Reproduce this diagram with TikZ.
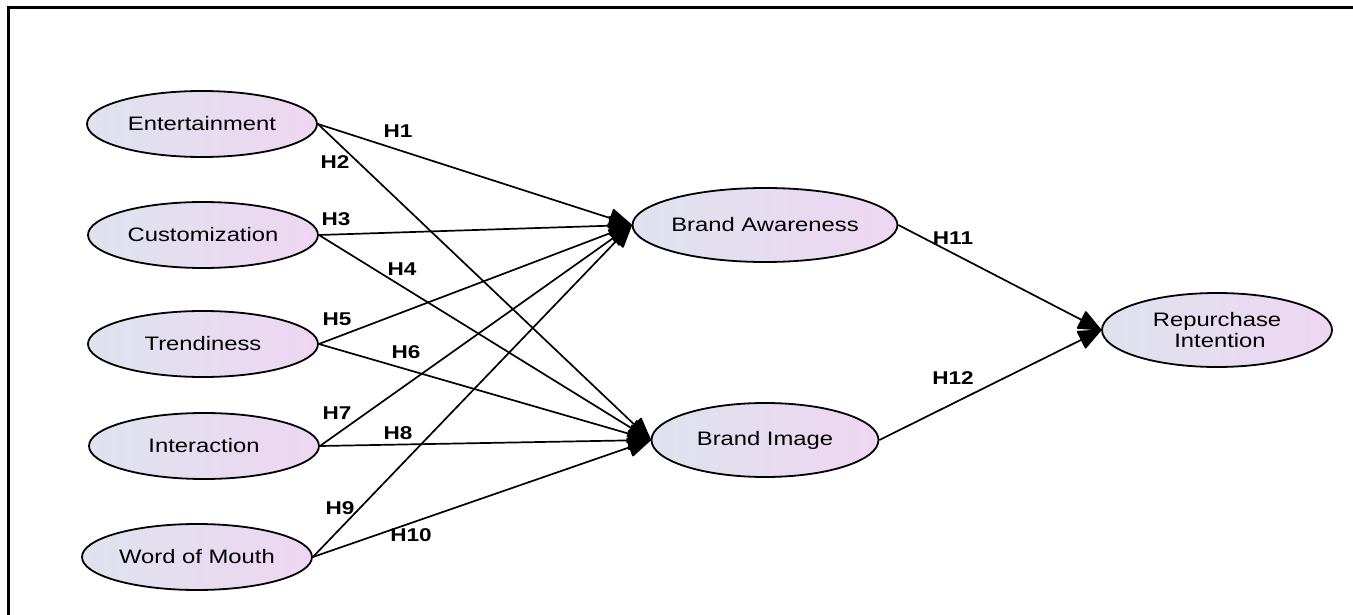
\documentclass[tikz,border=0pt]{standalone}
\usepackage{fontspec}
\usetikzlibrary{shapes.geometric,arrows.meta}
\newfontfamily\widesans[FakeStretch=1.22]{Liberation Sans}
\definecolor{ellL}{RGB}{222,227,238}
\definecolor{ellR}{RGB}{238,214,242}
\begin{document}
\begin{tikzpicture}[x=1pt,y=-1pt,
  construct/.style={ellipse,draw=black,line width=1.8pt,left color=ellL,right color=ellR,
    minimum width=230pt,minimum height=66pt,inner sep=0pt,
    font=\widesans\fontsize{19.5}{24}\selectfont,align=center},
  bigconstruct/.style={construct,minimum width=227pt,minimum height=74pt},
  link/.style={line width=1.7pt,draw=black,-{Triangle[length=24pt,width=20pt,round]}},
  hlab/.style={font=\widesans\bfseries\fontsize{18.5}{22}\selectfont,inner sep=0pt}
]
\useasboundingbox (0,0) rectangle (1353,615);
\draw[line width=3pt] (8,615) -- (8,8) -- (1353,8);

\node[construct] (E) at (202,124) {Entertainment};
\node[construct] (C) at (203,235) {Customization};
\node[construct] (T) at (203,344) {Trendiness};
\node[construct] (I) at (204,446) {Interaction};
\node[construct] (W) at (197,557) {Word of Mouth};
\node[bigconstruct] (BA) at (765,225) {Brand Awareness};
\node[bigconstruct] (BI) at (765,440) {Brand Image};
\node[bigconstruct,minimum width=230pt] (RI) at (1217,330) {Repurchase\\[-3pt] \hspace*{6pt}Intention};

\draw[link] (E.east) -- (BA.west);
\draw[link] (E.east) -- (BI.west);
\draw[link] (C.east) -- (BA.west);
\draw[link] (C.east) -- (BI.west);
\draw[link] (T.east) -- (BA.west);
\draw[link] (T.east) -- (BI.west);
\draw[link] (I.east) -- (BA.west);
\draw[link] (I.east) -- (BI.west);
\draw[link] (W.east) -- (BA.west);
\draw[link] (W.east) -- (BI.west);
\draw[link] (BA.east) -- (RI.west);
\draw[link] (BI.east) -- (RI.west);

\node[hlab] (h1) at (398,131) {H1};
\node[hlab] (h2) at (335,162) {H2};
\node[hlab] (h3) at (336,219) {H3};
\node[hlab] (h4) at (402,269) {H4};
\node[hlab] (h5) at (337,319) {H5};
\node[hlab] (h6) at (406,352) {H6};
\node[hlab] (h7) at (337,413) {H7};
\node[hlab] (h8) at (398,433) {H8};
\node[hlab] (h9) at (340,508) {H9};
\node[hlab] (h10) at (411,535) {H10};
\node[hlab] (h11) at (953,238) {H11};
\node[hlab] (h12) at (953,378) {H12};
\end{tikzpicture}
\end{document}
